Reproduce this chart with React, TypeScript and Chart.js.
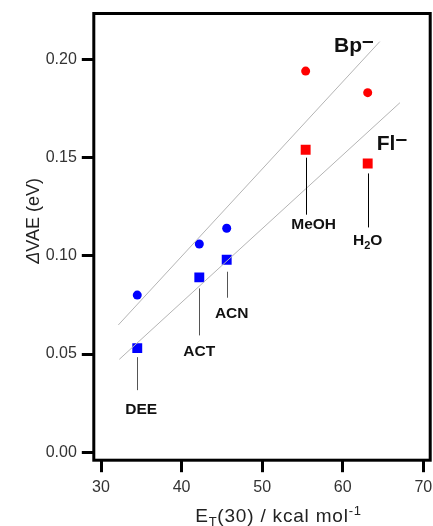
import React, { useEffect, useRef } from 'react';
import { Chart, registerables } from 'chart.js';
Chart.register(...registerables);

// ---- data ----
const solvents = ['DEE', 'ACT', 'ACN', 'MeOH', 'H2O'];
const et30 = [34.5, 42.2, 45.6, 55.4, 63.1];
const bpVAE = [0.080, 0.106, 0.114, 0.194, 0.183];
const flVAE = [0.053, 0.089, 0.098, 0.154, 0.147];
const solventColors = ['#0000ff', '#0000ff', '#0000ff', '#ff0000', '#ff0000'];
const bpFitX = [32.15, 64.6];
const bpFitY = [0.0648, 0.209];
const flFitX = [32.27, 67.1];
const flFitY = [0.0473, 0.1779];
const xTicks = [30, 40, 50, 60, 70];
const yTicks = [0, 0.05, 0.1, 0.15, 0.2];
const xRange = [29.106, 70.857];
const yRange = [-0.00402, 0.2233];
const seriesLabels = ['Bp', 'Fl'];
const seriesLabelX = [58.92, 64.22];
const seriesLabelY = [0.2037, 0.1538];

const FONT = '"Liberation Sans", Arial, Helvetica, sans-serif';

const annotPlugin = {
  id: 'annot',
  afterDatasetsDraw(chart: any) {
    const { ctx, chartArea: a, scales } = chart;
    const xs = scales.x;
    const ys = scales.y;
    ctx.save();
    // frame
    ctx.strokeStyle = '#000';
    ctx.lineWidth = 3;
    ctx.lineJoin = 'miter';
    ctx.strokeRect(a.left, a.top, a.right - a.left, a.bottom - a.top);

    // solvent labels under the Fl points: [leaderStart, leaderEnd, baseline, dx, colour]
    const cfg = [
      [9, 42, 66, 4, '#555'],
      [11, 58, 78.5, 0, '#555'],
      [12, 38, 58, 5, '#555'],
      [8, 65, 79.5, 8, '#000'],
      [10, 64, 81.5, 0, '#000'],
    ];
    solvents.forEach((name, i) => {
      const px = xs.getPixelForValue(et30[i]);
      const py = ys.getPixelForValue(flVAE[i]);
      const [a1, a2, base, dx, col] = cfg[i] as any;
      ctx.strokeStyle = col;
      ctx.lineWidth = 1;
      ctx.beginPath();
      ctx.moveTo(Math.round(px) + 0.5, py + a1);
      ctx.lineTo(Math.round(px) + 0.5, py + a2);
      ctx.stroke();
      ctx.fillStyle = '#111';
      ctx.textBaseline = 'alphabetic';
      const big = `bold 15.5px ${FONT}`;
      const small = `bold 11px ${FONT}`;
      if (name === 'H2O') {
        ctx.font = big;
        const wH = ctx.measureText('H').width;
        const wO = ctx.measureText('O').width;
        ctx.font = small;
        const w2 = ctx.measureText('2').width;
        const total = wH + w2 + wO;
        let sx = px + dx - total / 2;
        ctx.textAlign = 'left';
        ctx.font = big;
        ctx.fillText('H', sx, py + base);
        sx += wH;
        ctx.font = small;
        ctx.fillText('2', sx, py + base + 4);
        sx += w2;
        ctx.font = big;
        ctx.fillText('O', sx, py + base);
      } else {
        ctx.font = big;
        ctx.textAlign = 'center';
        ctx.fillText(name, px + dx, py + base);
      }
    });

    // series labels
    seriesLabels.forEach((lab, i) => {
      const px = xs.getPixelForValue(seriesLabelX[i]);
      const py = ys.getPixelForValue(seriesLabelY[i]);
      ctx.font = `bold 21px ${FONT}`;
      ctx.fillStyle = '#111';
      ctx.textAlign = 'left';
      ctx.fillText(lab, px, py);
      const w = ctx.measureText(lab).width;
      ctx.fillText('\u2013', px + w, py - 5.5);
    });
    ctx.restore();
  },
  afterDraw(chart: any) {
    const { ctx, chartArea: a } = chart;
    ctx.save();
    ctx.fillStyle = '#222';
    ctx.textBaseline = 'alphabetic';
    ctx.textAlign = 'left';
    // x title: E_T(30) / kcal mol^-1
    (ctx as any).letterSpacing = '0.8px';
    const main = `19px ${FONT}`;
    const sub = `13px ${FONT}`;
    const parts: [string, string, number][] = [
      ['E', main, 0],
      ['T', sub, 4],
      ['(30) / kcal mol', main, 0],
      ['-1', sub, -7],
    ];
    let total = 0;
    const widths = parts.map(([t, f]) => {
      ctx.font = f;
      const w = ctx.measureText(t).width;
      total += w;
      return w;
    });
    const cx = (a.left + a.right) / 2 + 16.5;
    let sx = cx - total / 2;
    const by = a.bottom + 61.5;
    parts.forEach(([t, f, dy], i) => {
      ctx.font = f;
      ctx.fillText(t, sx, by + dy);
      sx += widths[i];
    });
    (ctx as any).letterSpacing = '0px';

    // y title: ΔVAE (eV) rotated
    ctx.translate(a.left - 55.3, (a.top + a.bottom) / 2 - 16);
    ctx.rotate(-Math.PI / 2);
    const yparts: [string, string][] = [
      ['\u0394', `italic 18px ${FONT}`],
      ['VAE (eV)', `18px ${FONT}`],
    ];
    let yt = 0;
    const yw = yparts.map(([t, f]) => {
      ctx.font = f;
      const w = ctx.measureText(t).width;
      yt += w;
      return w;
    });
    let yx = -yt / 2;
    yparts.forEach(([t, f], i) => {
      ctx.font = f;
      ctx.fillText(t, yx, 0);
      yx += yw[i];
    });
    ctx.restore();
  },
};

export default function App() {
  const ref = useRef<HTMLCanvasElement>(null);
  useEffect(() => {
    const pts = (ys: number[]) => et30.map((v, i) => ({ x: v, y: ys[i] }));
    const line = (xs: number[], ys: number[]) => xs.map((v, i) => ({ x: v, y: ys[i] }));
    const chart = new Chart(ref.current as HTMLCanvasElement, {
      type: 'scatter',
      data: {
        datasets: [
          {
            label: 'Bp fit',
            data: line(bpFitX, bpFitY),
            showLine: true,
            borderColor: '#b4b4b4',
            borderWidth: 1,
            pointRadius: 0,
          },
          {
            label: 'Fl fit',
            data: line(flFitX, flFitY),
            showLine: true,
            borderColor: '#b4b4b4',
            borderWidth: 1,
            pointRadius: 0,
          },
          {
            label: 'Bp-',
            data: pts(bpVAE),
            pointStyle: 'circle',
            pointRadius: 4.5,
            backgroundColor: solventColors,
            borderWidth: 0,
          },
          {
            label: 'Fl-',
            data: pts(flVAE),
            pointStyle: 'rect',
            pointRadius: 7,
            backgroundColor: solventColors,
            borderWidth: 0,
          },
        ],
      } as any,
      options: {
        responsive: false,
        animation: false,
        devicePixelRatio: 1,
        layout: { autoPadding: false, padding: { top: 13.5, right: 2.8, left: 0, bottom: 0 } },
        plugins: { legend: { display: false }, tooltip: { enabled: false } },
        scales: {
          x: {
            type: 'linear',
            min: xRange[0],
            max: xRange[1],
            afterBuildTicks: (s: any) => {
              s.ticks = xTicks.map((v) => ({ value: v }));
            },
            afterFit: (s: any) => {
              s.height = 526 - 460.2;
              s.paddingLeft = 0;
              s.paddingRight = 0;
            },
            border: { display: false },
            grid: {
              drawOnChartArea: false,
              drawTicks: true,
              tickLength: 12,
              lineWidth: 3,
              color: '#000',
              tickColor: '#000',
            },
            ticks: {
              padding: 6,
              maxRotation: 0,
              autoSkip: false,
              color: '#333',
              font: { family: FONT, size: 16 },
              callback: (v: any) => String(v),
            },
          },
          y: {
            type: 'linear',
            min: yRange[0],
            max: yRange[1],
            afterBuildTicks: (s: any) => {
              s.ticks = yTicks.map((v) => ({ value: v }));
            },
            afterFit: (s: any) => {
              s.width = 93.8;
              s.paddingTop = 0;
              s.paddingBottom = 0;
            },
            border: { display: false },
            grid: {
              drawOnChartArea: false,
              drawTicks: true,
              tickLength: 12,
              lineWidth: 3,
              color: '#000',
              tickColor: '#000',
            },
            ticks: {
              padding: 5,
              autoSkip: false,
              color: '#333',
              font: { family: FONT, size: 16 },
              callback: (v: any) => Number(v).toFixed(2),
            },
          },
        },
      } as any,
      plugins: [annotPlugin],
    });
    return () => chart.destroy();
  }, []);
  return (
    <div style={{ position: 'absolute', left: 0, top: 0, width: 433, height: 526, background: '#fff' }}>
      <canvas ref={ref} width={433} height={526} style={{ width: 433, height: 526, display: 'block' }} />
    </div>
  );
}
